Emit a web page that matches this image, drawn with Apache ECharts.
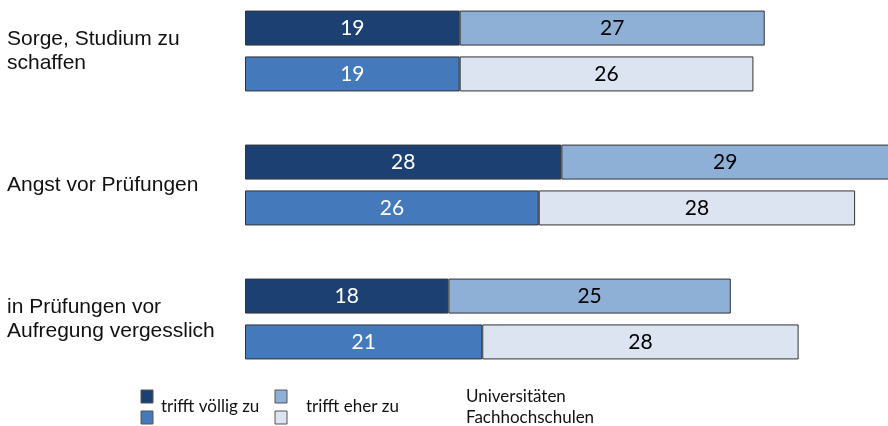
<!DOCTYPE html>
<html>
<head>
<meta charset="utf-8">
<script src="https://cdn.jsdelivr.net/npm/echarts@6/dist/echarts.min.js"></script>
<style>
  html, body { margin: 0; padding: 0; background: #fff; }
  #chart { width: 888px; height: 426px; }
</style>
</head>
<body>
<div id="chart"></div>
<script>
// Kategorien (von oben nach unten)
const categories = [
  'Sorge, Studium zu\nschaffen',
  'Angst vor Prüfungen',
  'in Prüfungen vor\nAufregung vergesslich'
];

// Werte in Prozent
const uniVoellig = [19, 28, 18];
const uniEher = [27, 29, 25];
const fhVoellig = [19, 26, 21];
const fhEher = [26, 28, 28];

const colors = {
  uniVoellig: '#1c4071',
  uniEher: '#8eb0d7',
  fhVoellig: '#447abc',
  fhEher: '#dbe4f0'
};

const chart = echarts.init(document.getElementById('chart'));

function barSeries(name, data, stack, color, labelColor) {
  return {
    name: name,
    type: 'bar',
    stack: stack,
    data: data,
    barWidth: 35,
    barGap: '31%',
    itemStyle: { color: color, borderColor: '#333', borderWidth: 1 },
    label: {
      show: true,
      position: 'inside',
      color: labelColor,
      fontFamily: 'Lato',
      fontSize: 21
    },
    emphasis: { disabled: true }
  };
}

const legendFont = { fontFamily: 'Lato', fontSize: 17, fill: '#111' };

function square(x, y, color) {
  return {
    type: 'rect',
    shape: { x: x, y: y, width: 12, height: 13 },
    style: { fill: color, stroke: '#555', lineWidth: 1 }
  };
}

const option = {
  animation: false,
  grid: { left: 245, top: -16, width: 644, height: 402, outerBoundsMode: 'none', containLabel: false },
  xAxis: {
    type: 'value',
    min: 0,
    max: 57,
    show: false
  },
  yAxis: {
    type: 'category',
    data: categories,
    inverse: true,
    axisLine: { show: false },
    axisTick: { show: false },
    axisLabel: {
      align: 'left',
      margin: 238,
      color: '#111',
      fontFamily: 'Liberation Sans',
      fontSize: 21,
      lineHeight: 24
    }
  },
  series: [
    barSeries('Universitäten – trifft völlig zu', uniVoellig, 'uni', colors.uniVoellig, '#fff'),
    barSeries('Universitäten – trifft eher zu', uniEher, 'uni', colors.uniEher, '#000'),
    barSeries('Fachhochschulen – trifft völlig zu', fhVoellig, 'fh', colors.fhVoellig, '#fff'),
    barSeries('Fachhochschulen – trifft eher zu', fhEher, 'fh', colors.fhEher, '#000')
  ],
  graphic: [
    square(141, 390, colors.uniVoellig),
    square(141, 411, colors.fhVoellig),
    square(275, 390, colors.uniEher),
    square(275, 411, colors.fhEher),
    { type: 'text', x: 161, y: 407, style: Object.assign({ text: 'trifft völlig zu', verticalAlign: 'middle' }, legendFont) },
    { type: 'text', x: 306, y: 407, style: Object.assign({ text: 'trifft eher zu', verticalAlign: 'middle' }, legendFont) },
    { type: 'text', x: 466, y: 397, style: Object.assign({ text: 'Universitäten', verticalAlign: 'middle' }, legendFont) },
    { type: 'text', x: 466, y: 418, style: Object.assign({ text: 'Fachhochschulen', verticalAlign: 'middle' }, legendFont) }
  ]
};

chart.setOption(option);
</script>
</body>
</html>
